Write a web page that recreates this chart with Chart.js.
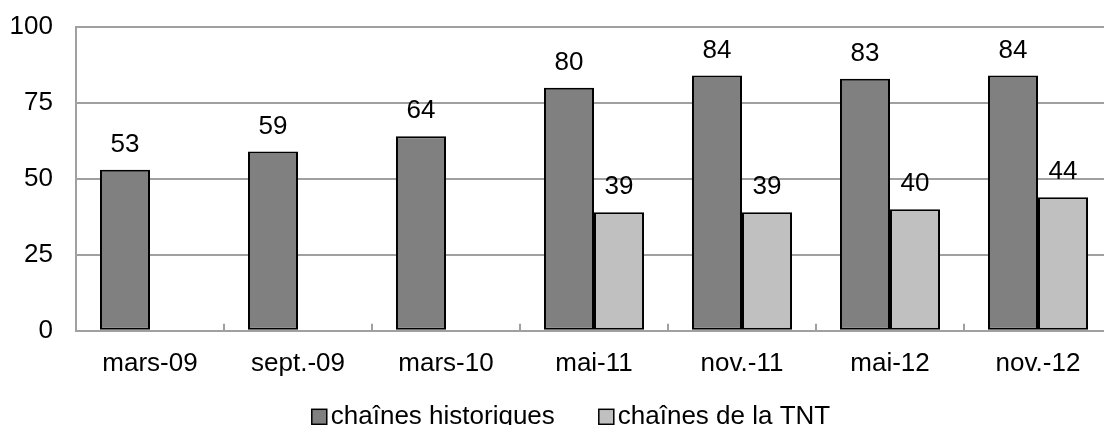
<!DOCTYPE html>
<html>
<head>
<meta charset="utf-8">
<script src="https://cdn.jsdelivr.net/npm/chart.js@4/dist/chart.umd.min.js"></script>
<style>
  html, body { margin: 0; padding: 0; background: #fff; overflow: hidden; }
  #wrap { width: 1112px; height: 425px; position: relative; }
</style>
</head>
<body>
<div id="wrap"><canvas id="chart"></canvas></div>
<script>
const categories = ['mars-09', 'sept.-09', 'mars-10', 'mai-11', 'nov.-11', 'mai-12', 'nov.-12']
const historiques = [53, 59, 64, 80, 84, 83, 84]
const tnt = [null, null, null, 39, 39, 40, 44]
const yTicks = [0, 25, 50, 75, 100]

const FONT = '"Liberation Sans", Arial, sans-serif'
const SIZE = 26
const GRID = '#a0a0a0'

// value labels above each bar
const barLabels = {
  id: 'barLabels',
  afterDatasetsDraw(chart) {
    const ctx = chart.ctx
    ctx.save()
    ctx.font = SIZE + 'px ' + FONT
    ctx.fillStyle = '#000'
    ctx.textAlign = 'center'
    ctx.textBaseline = 'alphabetic'
    chart.data.datasets.forEach((ds, i) => {
      chart.getDatasetMeta(i).data.forEach((bar, j) => {
        const v = ds.data[j]
        if (v == null) return
        ctx.fillText(String(v), bar.x, bar.y - 18)
      })
    })
    ctx.restore()
  }
}

// small inward ticks between categories on the x axis
const catTicks = {
  id: 'catTicks',
  afterDatasetsDraw(chart) {
    const x = chart.scales.x
    const ctx = chart.ctx
    const bottom = chart.chartArea.bottom
    ctx.save()
    ctx.strokeStyle = GRID
    ctx.lineWidth = 2
    ctx.beginPath()
    for (let i = 1; i < categories.length; i++) {
      const px = (x.getPixelForTick(i - 1) + x.getPixelForTick(i)) / 2
      ctx.moveTo(px, bottom)
      ctx.lineTo(px, bottom - 7)
    }
    ctx.stroke()
    ctx.restore()
  }
}

// excel-like legend: small boxes, wide gap between the two entries
const bottomLegend = {
  id: 'bottomLegend',
  afterDraw(chart) {
    const ctx = chart.ctx
    const box = 15, textGap = 4, itemGap = 44
    ctx.save()
    ctx.font = SIZE + 'px ' + FONT
    const items = chart.data.datasets.map(ds => ({
      text: ds.label,
      fill: ds.backgroundColor,
      w: box + textGap + ctx.measureText(ds.label).width
    }))
    const total = items.reduce((s, it) => s + it.w, 0) + itemGap * (items.length - 1)
    let x = 571 - total / 2
    const cy = chart.chartArea.bottom + 86
    ctx.textBaseline = 'alphabetic'
    ctx.textAlign = 'left'
    items.forEach(it => {
      ctx.fillStyle = it.fill
      ctx.fillRect(x, cy - box / 2, box, box)
      ctx.strokeStyle = '#000'
      ctx.lineWidth = 1.5
      ctx.strokeRect(x, cy - box / 2, box, box)
      ctx.fillStyle = '#000'
      ctx.fillText(it.text, x + box + textGap, cy + box / 2)
      x += it.w + itemGap
    })
    ctx.restore()
  }
}

new Chart(document.getElementById('chart'), {
  type: 'bar',
  data: {
    labels: categories,
    datasets: [
      {
        label: 'chaînes historiques',
        data: historiques,
        backgroundColor: '#808080',
        borderColor: '#000',
        borderWidth: 2,
        borderSkipped: false,
        categoryPercentage: 0.676,
        barPercentage: 1
      },
      {
        label: 'chaînes de la TNT',
        data: tnt,
        backgroundColor: '#c0c0c0',
        borderColor: '#000',
        borderWidth: 2,
        borderSkipped: false,
        categoryPercentage: 0.676,
        barPercentage: 1
      }
    ]
  },
  options: {
    responsive: true,
    maintainAspectRatio: false,
    animation: false,
    layout: { padding: { left: 0, right: 0, top: 27, bottom: 37 } },
    plugins: {
      tooltip: { enabled: false },
      legend: { display: false }
    },
    scales: {
      x: {
        grid: { display: false },
        border: { color: GRID, width: 2 },
        ticks: {
          color: '#000',
          font: { family: FONT, size: SIZE },
          padding: 9,
          maxRotation: 0
        }
      },
      y: {
        min: 0,
        max: 100,
        afterFit(scale) {
          scale.width = 76
          scale.paddingTop = 0
          scale.paddingBottom = 0
        },
        afterBuildTicks(scale) { scale.ticks = yTicks.map(v => ({ value: v })) },
        grid: { color: GRID, lineWidth: 2, drawTicks: false },
        border: { color: GRID, width: 2 },
        ticks: {
          color: '#000',
          font: { family: FONT, size: SIZE },
          padding: 23
        }
      }
    }
  },
  plugins: [barLabels, catTicks, bottomLegend]
})
</script>
</body>
</html>
